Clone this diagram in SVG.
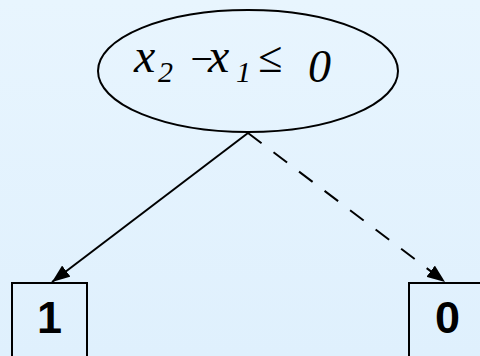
<svg xmlns="http://www.w3.org/2000/svg" width="480" height="356" viewBox="0 0 480 356">
<style>
.shape{fill:none;stroke:#000;stroke-width:2}
.edge{fill:none;stroke:#000;stroke-width:2}
.math{font-family:'Liberation Serif','Times New Roman','DejaVu Serif',serif;font-style:italic;fill:#000}
.num{font-family:'Liberation Sans',Arial,sans-serif;font-weight:bold;font-size:45px;fill:#000;text-anchor:middle}
</style>
<defs>
<linearGradient id="bg" x1="0" y1="0" x2="0" y2="1">
<stop offset="0" stop-color="#e8f5fe"/>
<stop offset="1" stop-color="#dff0fd"/>
</linearGradient>
<marker id="arr" markerWidth="18" markerHeight="14" refX="18" refY="7" orient="auto" markerUnits="userSpaceOnUse">
<path d="M0,0 L18,7 L0,14 Z" fill="#000"/>
</marker>
</defs>
<rect width="480" height="356" fill="url(#bg)"/>
<g id="edges">
<line class="edge" x1="248" y1="133" x2="52" y2="282" marker-end="url(#arr)"/>
<line class="edge" x1="248" y1="133" x2="445" y2="282" stroke-dasharray="17,15" marker-end="url(#arr)"/>
</g>
<g id="root">
<ellipse class="shape" cx="248" cy="71" rx="150" ry="61"/>
<text class="math" font-size="48" x="134" y="72">x</text>
<text class="math" font-size="30" x="158" y="82">2</text>
<text class="math" font-size="40" x="188" y="72">−</text>
<text class="math" font-size="48" x="208" y="72">x</text>
<text class="math" font-size="30" x="236" y="82">1</text>
<text class="math" font-size="44" x="258" y="72">≤</text>
<text class="math" font-size="46" x="308" y="82">0</text>
</g>
<g id="leaf1">
<rect class="shape" x="12" y="283" width="75" height="90"/>
<text class="num" x="49.5" y="333">1</text>
</g>
<g id="leaf0">
<rect class="shape" x="409" y="283" width="76" height="90"/>
<text class="num" x="447.5" y="333">0</text>
</g>
</svg>
